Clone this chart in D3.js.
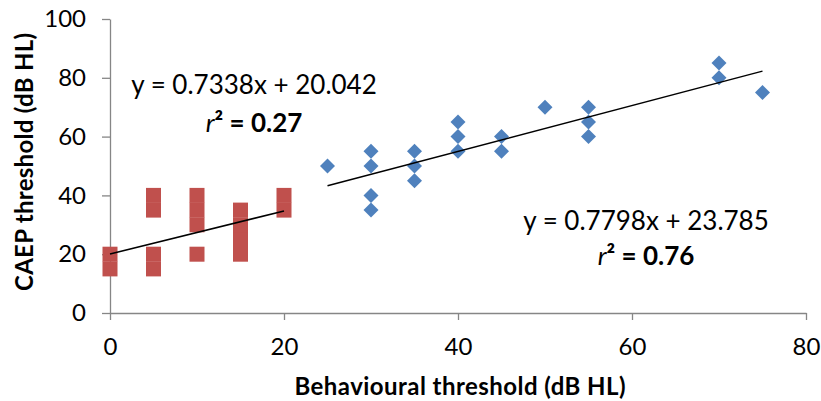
<!DOCTYPE html>
<html>
<head>
<meta charset="utf-8">
<script src="https://cdn.jsdelivr.net/npm/d3@7/dist/d3.min.js"></script>
<style>
  html, body { margin: 0; padding: 0; background: #fff; }
  svg text { font-family: Lato, "Open Sans", sans-serif; fill: #000; }
</style>
</head>
<body>
<svg id="chart" width="821" height="401"></svg>
<script>
// Group with milder thresholds (red squares): [behavioural, CAEP]
const groupA = [
  [0, 15], [0, 20],
  [5, 15], [5, 20], [5, 35], [5, 40],
  [10, 20], [10, 30], [10, 35], [10, 40],
  [15, 20], [15, 25], [15, 30], [15, 35],
  [20, 35], [20, 40]
];
// Group with higher thresholds (blue diamonds)
const groupB = [
  [25, 50],
  [30, 35], [30, 40], [30, 50], [30, 55],
  [35, 45], [35, 50], [35, 55],
  [40, 55], [40, 60], [40, 65],
  [45, 55], [45, 60],
  [50, 70],
  [55, 60], [55, 65], [55, 70],
  [70, 80], [70, 85],
  [75, 75]
];
// Linear fits: slope, intercept, x-range, r²
const fitA = { slope: 0.7338, intercept: 20.042, from: 0, to: 20, r2: "0.27" };
const fitB = { slope: 0.7798, intercept: 23.785, from: 25, to: 75, r2: "0.76" };

const xTicks = [0, 20, 40, 60, 80];
const yTicks = [0, 20, 40, 60, 80, 100];
const xTitle = "Behavioural threshold (dB HL)";
const yTitle = "CAEP threshold (dB HL)";

const svg = d3.select("#chart");
const x = d3.scaleLinear().domain([0, 80]).range([110, 806]);
const y = d3.scaleLinear().domain([0, 100]).range([313, 19]);
const axisColor = "#868686";

// Axes
const xAxis = svg.append("g")
  .attr("transform", `translate(0,${y(0)})`)
  .call(d3.axisBottom(x).tickValues(xTicks).tickSize(7).tickPadding(18).tickSizeOuter(0));
const yAxis = svg.append("g")
  .attr("transform", `translate(${x(0)},0)`)
  .call(d3.axisLeft(y).tickValues(yTicks).tickSize(8).tickPadding(16).tickSizeOuter(0));
[xAxis, yAxis].forEach(g => {
  g.select(".domain").attr("stroke", axisColor).attr("stroke-width", 1.3);
  g.selectAll(".tick line").attr("stroke", axisColor).attr("stroke-width", 1.3);
  g.selectAll(".tick text")
    .attr("font-family", "Lato, sans-serif")
    .attr("font-size", 24)
    .attr("fill", "#000");
});

// Red squares
const sq = 15;
svg.append("g").selectAll("rect").data(groupA).join("rect")
  .attr("x", d => x(d[0]) - sq / 2)
  .attr("y", d => y(d[1]) - sq / 2)
  .attr("width", sq).attr("height", sq)
  .attr("fill", "#C0504D");

// Blue diamonds
const r = 7.5;
svg.append("g").selectAll("path").data(groupB).join("path")
  .attr("d", d => {
    const cx = x(d[0]), cy = y(d[1]);
    return `M${cx},${cy - r}L${cx + r},${cy}L${cx},${cy + r}L${cx - r},${cy}Z`;
  })
  .attr("fill", "#4F81BD");

// Trend lines
[fitA, fitB].forEach(f => {
  svg.append("line")
    .attr("x1", x(f.from)).attr("y1", y(f.slope * f.from + f.intercept))
    .attr("x2", x(f.to)).attr("y2", y(f.slope * f.to + f.intercept))
    .attr("stroke", "#000").attr("stroke-width", 1.5);
});

// Equation labels
function equation(f, cx, yEq, yR) {
  svg.append("text")
    .attr("x", cx).attr("y", yEq).attr("text-anchor", "middle")
    .attr("font-size", 26)
    .text(`y = ${f.slope}x + ${f.intercept}`);
  const t = svg.append("text")
    .attr("x", cx).attr("y", yR).attr("text-anchor", "middle")
    .attr("font-size", 26);
  t.append("tspan").attr("font-style", "italic").text("r");
  t.append("tspan").attr("font-weight", "bold").text("² = " + f.r2);
}
equation(fitA, 254, 94, 132);
equation(fitB, 646, 230, 265);

// Axis titles
svg.append("text")
  .attr("x", 460).attr("y", 395)
  .attr("text-anchor", "middle").attr("font-weight", "bold").attr("font-size", 24)
  .attr("textLength", 331).attr("lengthAdjust", "spacing")
  .text(xTitle);
svg.append("text")
  .attr("transform", `translate(33,162) rotate(-90)`)
  .attr("text-anchor", "middle").attr("font-weight", "bold").attr("font-size", 24)
  .attr("textLength", 258).attr("lengthAdjust", "spacing")
  .text(yTitle);
</script>
</body>
</html>
